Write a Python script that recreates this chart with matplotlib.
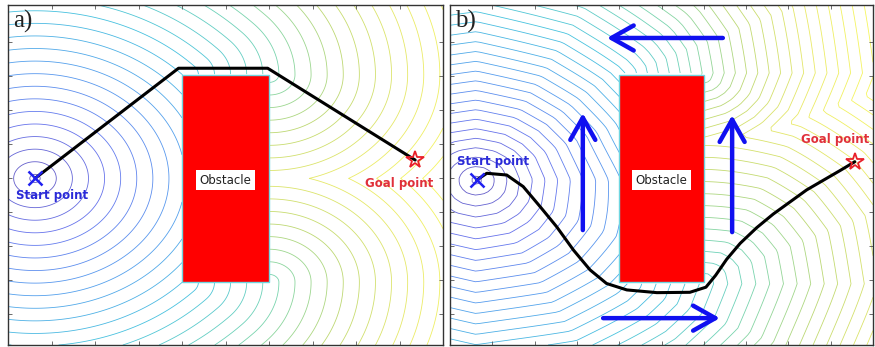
import heapq
import numpy as np
import matplotlib
matplotlib.use("Agg")
import matplotlib.pyplot as plt
from matplotlib.colors import LinearSegmentedColormap
from matplotlib.patches import Rectangle

# obstacle box (same for both panels)
obs_x = [4.0, 6.0]
obs_y = [1.85, 7.95]

# panel a: shortest path without currents
start_a = [0.62, 4.90]
goal_a = [9.36, 5.44]
path_a_x = [0.62, 3.92, 5.97, 9.36]
path_a_y = [4.90, 8.14, 8.14, 5.44]

# panel b: path with currents
start_b = [0.63, 4.85]
goal_b = [9.57, 5.39]
path_b_x = [0.63, 0.87, 1.34, 1.73, 2.13, 2.52, 2.92, 3.31, 3.70, 4.18, 4.89, 5.67,
            6.05, 6.28, 6.54, 6.86, 7.25, 7.64, 8.43, 9.22, 9.57]
path_b_y = [4.85, 5.05, 5.00, 4.66, 4.07, 3.48, 2.79, 2.21, 1.81, 1.62, 1.54, 1.55,
            1.70, 2.05, 2.52, 2.99, 3.45, 3.85, 4.56, 5.13, 5.39]

# current arrows (tail x, tail y, head x, head y)
arrows_b = [
    (6.45, 9.03, 3.71, 9.03),
    (3.14, 3.38, 3.14, 6.82),
    (6.67, 3.32, 6.67, 6.76),
    (3.62, 0.79, 6.38, 0.79),
]

parula = LinearSegmentedColormap.from_list("parula", [
    (0.28, 0.22, 0.70),
    (0.30, 0.36, 0.92),
    (0.22, 0.55, 0.92),
    (0.15, 0.72, 0.85),
    (0.35, 0.80, 0.65),
    (0.70, 0.82, 0.35),
    (0.90, 0.90, 0.30),
    (0.97, 0.97, 0.25),
])


def seg_clear(ax_, ay_, bx_, by_, eps=1e-6):
    """True where segment A-B stays out of the obstacle interior."""
    x0, x1 = obs_x[0] + eps, obs_x[1] - eps
    y0, y1 = obs_y[0] + eps, obs_y[1] - eps
    dx = bx_ - ax_
    dy = by_ - ay_
    t0 = np.zeros(np.broadcast(ax_, bx_, ay_, by_).shape)
    t1 = np.ones_like(t0)
    outside = np.zeros(t0.shape, dtype=bool)
    for p, q in [(-dx, ax_ - x0), (dx, x1 - ax_), (-dy, ay_ - y0), (dy, y1 - ay_)]:
        p = np.broadcast_to(p, t0.shape)
        q = np.broadcast_to(q, t0.shape)
        par = np.abs(p) < 1e-12
        outside |= par & (q < 0)
        with np.errstate(divide="ignore", invalid="ignore"):
            t = np.where(par, 0.0, q / np.where(par, 1.0, p))
        t0 = np.where(~par & (p < 0), np.maximum(t0, t), t0)
        t1 = np.where(~par & (p > 0), np.minimum(t1, t), t1)
    return outside | (t0 >= t1)


def geodesic(X, Y, sx, sy):
    tl = (obs_x[0], obs_y[1]); tr = (obs_x[1], obs_y[1])
    bl = (obs_x[0], obs_y[0]); br = (obs_x[1], obs_y[0])
    w = obs_x[1] - obs_x[0]
    d_tl = np.hypot(tl[0] - sx, tl[1] - sy)
    d_bl = np.hypot(bl[0] - sx, bl[1] - sy)
    D = np.full(X.shape, np.inf)
    D = np.where(seg_clear(sx, sy, X, Y), np.minimum(D, np.hypot(X - sx, Y - sy)), D)
    for c, base in [(tl, d_tl), (bl, d_bl), (tr, d_tl + w), (br, d_bl + w)]:
        cand = base + np.hypot(X - c[0], Y - c[1])
        D = np.where(seg_clear(c[0], c[1], X, Y), np.minimum(D, cand), D)
    inside = (X > obs_x[0]) & (X < obs_x[1]) & (Y > obs_y[0]) & (Y < obs_y[1])
    return np.ma.masked_where(inside | ~np.isfinite(D), D)


def current(x, y):
    dx, dy = x - 5.0, y - 4.9
    r = np.hypot(dx, dy) + 1e-9
    swirl = 0.16 * np.exp(-(r / 8.0) ** 2)
    return -swirl * dy / r, swirl * dx / r + 0.04


def travel_time(xs, ys, sx, sy):
    X, Y = np.meshgrid(xs, ys)
    h = xs[1] - xs[0]
    ny, nx = X.shape

    def inside(px, py):
        return (px > obs_x[0]) & (px < obs_x[1]) & (py > obs_y[0]) & (py < obs_y[1])

    blocked = inside(X, Y).tolist()
    steps = [(1, 0), (0, 1), (-1, 0), (0, -1), (1, 1), (1, -1), (-1, 1), (-1, -1),
             (1, 2), (2, 1), (-1, 2), (-2, 1), (1, -2), (2, -1), (-1, -2), (-2, -1)]
    costs, midblock = [], []
    for di, dj in steps:
        n = np.hypot(di, dj)
        ux, uy = di / n, dj / n
        mx, my = X + 0.5 * di * h, Y + 0.5 * dj * h
        vx, vy = current(mx, my)
        along = vx * ux + vy * uy
        cross = vx * uy - vy * ux
        g = along + np.sqrt(1.0 - cross ** 2)
        costs.append((h * n / g).tolist())
        midblock.append(inside(mx, my).tolist())

    T = [[np.inf] * nx for _ in range(ny)]
    heap = []
    for r in range(ny):
        for c in range(nx):
            d = np.hypot(xs[c] - sx, ys[r] - sy)
            if d < 2.5 * h:
                T[r][c] = d
                heapq.heappush(heap, (d, r, c))
    while heap:
        t, r, c = heapq.heappop(heap)
        if t > T[r][c]:
            continue
        for k, (di, dj) in enumerate(steps):
            rr, cc = r + dj, c + di
            if rr < 0 or rr >= ny or cc < 0 or cc >= nx:
                continue
            if blocked[rr][cc] or midblock[k][r][c]:
                continue
            nt = t + costs[k][r][c]
            if nt < T[rr][cc]:
                T[rr][cc] = nt
                heapq.heappush(heap, (nt, rr, cc))
    T = np.array(T)
    return X, Y, np.ma.masked_where(inside(X, Y) | ~np.isfinite(T), T)


def draw_panel(ax, X, Y, F, spacing, start, goal, px, py, label,
               start_txt, goal_txt):
    levels = np.arange(0.12, F.max(), spacing)
    ax.contour(X, Y, F, levels=levels, cmap=parula, vmin=0, vmax=F.max(),
               linewidths=0.6, alpha=0.85, zorder=1)
    ax.add_patch(Rectangle((obs_x[0], obs_y[0]), obs_x[1] - obs_x[0], obs_y[1] - obs_y[0],
                           facecolor="red", edgecolor="#6fd6e0", lw=1.0, zorder=2))
    ax.text(5.0, 4.85, "Obstacle", ha="center", va="center", fontsize=8.5, color="#222222",
            bbox=dict(facecolor="white", edgecolor="none", pad=2.5), zorder=3)
    ax.plot(px, py, color="black", lw=2.2, solid_capstyle="round",
            solid_joinstyle="round", zorder=4)
    ax.plot(start[0], start[1], marker="x", color="#2020f0", ms=10, mew=1.8, zorder=5)
    ax.plot(goal[0], goal[1], marker="*", mfc="none", mec="#e8202a", ms=13, mew=1.3, zorder=5)
    ax.text(start_txt[0], start_txt[1], "Start point", ha="center", va="center",
            fontsize=8.5, fontweight="bold", color="#2a2ad8", zorder=5)
    ax.text(goal_txt[0], goal_txt[1], "Goal point", ha="center", va="center",
            fontsize=8.5, fontweight="bold", color="#e0303a", zorder=5, clip_on=True)
    ax.text(0.012, 0.985, label, transform=ax.transAxes, ha="left", va="top",
            fontsize=18, family="Liberation Serif", color="#222222", zorder=6)
    ax.set_xlim(0, 10)
    ax.set_ylim(0, 10)
    ax.set_xticks(np.arange(1, 10))
    ax.set_yticks(np.arange(0.9, 9.0, 1.0))
    ax.tick_params(direction="in", length=3, width=0.6, top=True, right=True,
                   labelbottom=False, labelleft=False, color="#555555")
    for s in ax.spines.values():
        s.set_linewidth(1.0)
        s.set_color("#333333")


fig = plt.figure(figsize=(8.75, 3.47), dpi=100)
ax_a = fig.add_axes([8 / 875, 2 / 347, 435 / 875, 340 / 347])
ax_b = fig.add_axes([450 / 875, 2 / 347, 423 / 875, 340 / 347])

gx = np.linspace(0, 10, 301)
GX, GY = np.meshgrid(gx, gx)
Da = geodesic(GX, GY, start_a[0], start_a[1])
draw_panel(ax_a, GX, GY, Da, 0.37, start_a, goal_a, path_a_x, path_a_y, "a)",
           (1.01, 4.41), (9.0, 4.76))

xs = np.linspace(0, 10, 101)
BX, BY, Tb = travel_time(xs, xs, start_b[0], start_b[1])
draw_panel(ax_b, BX, BY, Tb, 0.3, start_b, goal_b, path_b_x, path_b_y, "b)",
           (1.02, 5.41), (9.1, 6.03))

for x0, y0, x1, y1 in arrows_b:
    ax_b.annotate("", xy=(x1, y1), xytext=(x0, y0), zorder=4,
                  arrowprops=dict(arrowstyle="->,head_length=0.8,head_width=0.45",
                                  color="#1010f0", lw=3.2, mutation_scale=20,
                                  shrinkA=0, shrinkB=0))

fig.savefig("out.png", dpi=100)
